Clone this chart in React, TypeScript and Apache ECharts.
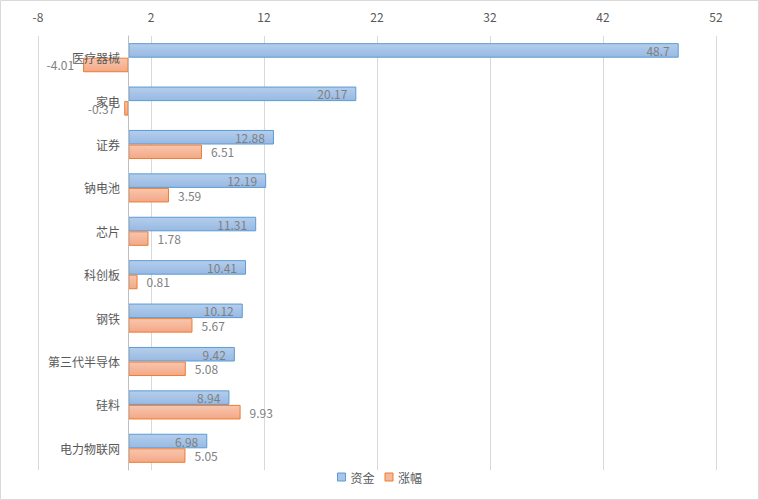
import React, { useEffect, useRef } from "react";
import * as echarts from "echarts";

const categories = ["医疗器械", "家电", "证券", "钠电池", "芯片", "科创板", "钢铁", "第三代半导体", "硅料", "电力物联网"];
const fundValues = [48.7, 20.17, 12.88, 12.19, 11.31, 10.41, 10.12, 9.42, 8.94, 6.98];
const changeValues = [-4.01, -0.37, 6.51, 3.59, 1.78, 0.81, 5.67, 5.08, 9.93, 5.05];
const seriesNames = ["资金", "涨幅"];
const axisMin = -8;
const axisMax = 52;
const axisInterval = 10;

const FONT = "'Noto Sans CJK SC', 'Noto Sans', sans-serif";
const TEXT = "#595959";
const LABEL = "#7F7F7F";

export default function App() {
  const ref = useRef<HTMLDivElement>(null);
  useEffect(() => {
    if (!ref.current) return;
    const chart = echarts.init(ref.current, null, { renderer: "svg" });
    const blueFill = new echarts.graphic.LinearGradient(0, 0, 0, 1, [
      { offset: 0, color: "#B4CEEC" },
      { offset: 1, color: "#98B9E3" },
    ]);
    const orangeFill = new echarts.graphic.LinearGradient(0, 0, 0, 1, [
      { offset: 0, color: "#F8C6AE" },
      { offset: 1, color: "#F3A887" },
    ]);
    chart.setOption({
      animation: false,
      backgroundColor: "#FFFFFF",
      textStyle: { fontFamily: FONT },
      graphic: [
        {
          type: "rect",
          shape: { x: 0.5, y: 0.5, width: 758, height: 499 },
          style: { fill: "none", stroke: "#D9D9D9", lineWidth: 1 },
          silent: true,
        },
      ],
      grid: { left: 38, right: 43, top: 36, bottom: 30, containLabel: false, outerBoundsMode: "none" },
      legend: {
        bottom: 12,
        left: "center",
        itemWidth: 8,
        itemHeight: 8,
        itemGap: 10,
        textStyle: { color: TEXT, fontSize: 12, fontFamily: FONT },
        data: [
          { name: seriesNames[0], icon: "rect", itemStyle: { color: "#A9C6EA", borderColor: "#5B9BD5", borderWidth: 1 } },
          { name: seriesNames[1], icon: "rect", itemStyle: { color: "#F6B89B", borderColor: "#ED7D31", borderWidth: 1 } },
        ],
      },
      xAxis: {
        type: "value",
        position: "top",
        min: axisMin,
        max: axisMax,
        interval: axisInterval,
        axisLine: { show: false },
        axisTick: { show: false },
        axisLabel: { color: TEXT, fontSize: 12, margin: 14, fontFamily: FONT },
        splitLine: { show: true, lineStyle: { color: "#D9D9D9", width: 1 } },
      },
      yAxis: {
        type: "category",
        inverse: true,
        data: categories,
        z: 5,
        axisLine: { show: true, onZero: true, lineStyle: { color: "#BFBFBF" } },
        axisTick: { show: false },
        axisLabel: { color: TEXT, fontSize: 12, margin: -82, align: "right", fontFamily: FONT },
        splitLine: { show: false },
      },
      series: [
        {
          name: seriesNames[0],
          type: "bar",
          data: fundValues,
          barGap: "0%",
          barCategoryGap: "33%",
          itemStyle: { color: blueFill, borderColor: "#5B9BD5", borderWidth: 1 },
          label: {
            show: true,
            position: "insideRight",
            distance: 9,
            color: LABEL,
            fontSize: 12,
            fontFamily: FONT,
          },
        },
        {
          name: seriesNames[1],
          type: "bar",
          data: changeValues.map((v) => ({
            value: v,
            label: { position: v < 0 ? "left" : "right" },
          })),
          barGap: "0%",
          barCategoryGap: "33%",
          itemStyle: { color: orangeFill, borderColor: "#ED7D31", borderWidth: 1 },
          label: {
            show: true,
            position: "right",
            distance: 9,
            color: LABEL,
            fontSize: 12,
            fontFamily: FONT,
          },
        },
      ],
    });
    return () => chart.dispose();
  }, []);
  return (
    <div
      ref={ref}
      style={{ position: "fixed", left: 0, top: 0, width: 759, height: 500 }}
    />
  );
}
